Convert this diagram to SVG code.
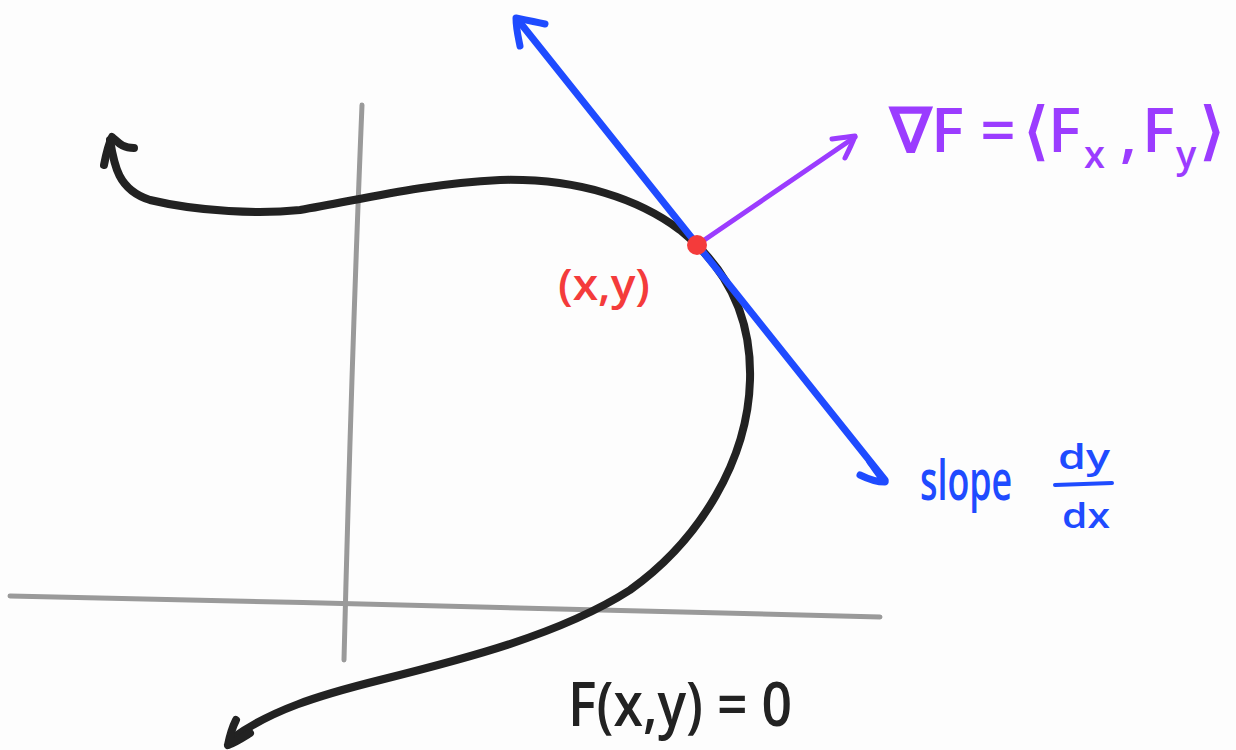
<svg xmlns="http://www.w3.org/2000/svg" width="1236" height="750" viewBox="0 0 1236 750">
<style>
.t{font-family:"Open Sans","Liberation Sans",sans-serif;font-weight:600}
.g{fill:#9b3cff}
.ax{fill:none;stroke:#9a9a9a;stroke-width:5;stroke-linecap:round}
.k{fill:none;stroke:#222;stroke-width:8;stroke-linecap:round;stroke-linejoin:round}
.b{fill:none;stroke:#1f4bff;stroke-width:7;stroke-linecap:round;stroke-linejoin:round}
.p{fill:none;stroke:#9b3cff;stroke-width:5;stroke-linecap:round;stroke-linejoin:round}
</style>
<rect width="1236" height="750" fill="#fdfdfd"/>
<g id="axes">
<path class="ax" d="M362,105 C356,250 350,420 344,660"/>
<path class="ax" d="M10,596 C300,602 600,610 880,617"/>
</g>
<g id="connectors">
<path id="curve" class="k" d="M110,140 C114,165 118,190 150,200 C200,212 260,214 300,210 C360,200 420,184 500,180 C580,178 640,200 680,230 C720,262 752,310 750,380 C748,460 700,540 630,590 C560,635 460,660 380,680 C320,695 270,710 230,740"/>
<path class="k" d="M104,165 C106,155 108,145 112,137 C118,142 122,148 134,148"/>
<path class="k" d="M228,745 C230,735 232,728 236,720 M228,745 C236,742 242,738 250,733"/>
<path id="tangent" class="b" d="M518,20 L885,480"/>
<path class="b" d="M520,46 C518,36 516,28 516,18 C526,20 536,22 545,24"/>
<path class="b" d="M870,462 C876,470 880,476 885,482 C876,482 866,478 860,475"/>
<path id="gradient" class="p" d="M697,245 L855,137"/>
<path class="p" d="M832,139 C840,138 848,137 855,136 C852,144 848,152 845,158"/>
</g>
<g id="point">
<circle cx="697" cy="245" r="10" fill="#f43b3b"/>
<text class="t" x="558" y="300" font-size="44" fill="#f43b3b" textLength="92" lengthAdjust="spacingAndGlyphs">(x,y)</text>
</g>
<g id="gradient-label" class="t">
<text class="g" x="890" y="152" font-size="62">∇F =</text>
<text class="g" x="1024" y="152" font-size="62">⟨F</text>
<text class="g" x="1084" y="168" font-size="38">x</text>
<text class="g" x="1120" y="156" font-size="62">,</text>
<text class="g" x="1142" y="152" font-size="62">F</text>
<text class="g" x="1176" y="168" font-size="38">y</text>
<text class="g" x="1200" y="152" font-size="62">⟩</text>
</g>
<g id="slope-label">
<text class="t" transform="translate(920,500) scale(0.64,1)" x="0" y="0" font-size="56" fill="#1f4bff">slope</text>
<text class="t" x="1058" y="469" font-size="34" fill="#1f4bff" textLength="52" lengthAdjust="spacingAndGlyphs">dy</text>
<line x1="1055" y1="485" x2="1112" y2="483" stroke="#1f4bff" stroke-width="4" stroke-linecap="round"/>
<text class="t" x="1062" y="528" font-size="34" fill="#1f4bff" textLength="48" lengthAdjust="spacingAndGlyphs">dx</text>
</g>
<g id="equation">
<text class="t" x="568" y="726" font-size="62" fill="#222" textLength="224" lengthAdjust="spacingAndGlyphs">F(x,y) = 0</text>
</g>
</svg>
